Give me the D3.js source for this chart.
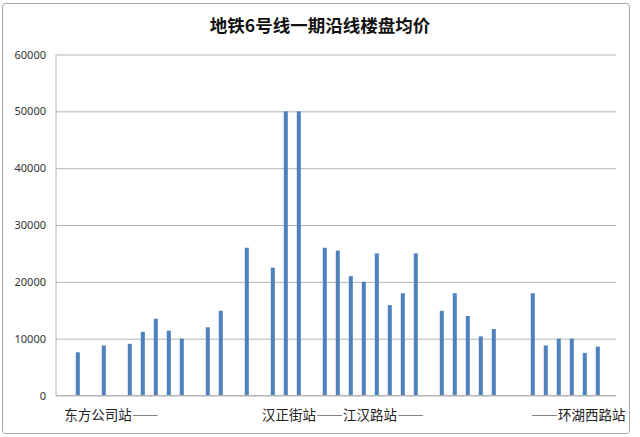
<!DOCTYPE html>
<html>
<head>
<meta charset="utf-8">
<script src="https://cdn.jsdelivr.net/npm/d3@7"></script>
<style>
  html, body { margin: 0; padding: 0; background: #fff; }
  svg { display: block; }
  .station { font-feature-settings: "fwid"; }
</style>
</head>
<body>
<div id="chart"></div>
<script>
// Chart data: one slot per building along the line, null = no bar in that slot
var slots = d3.range(1, 42).map(String);
var prices = [7600, null, 8800, null, 9100, 11200, 13500, 11400, 10000, null,
              12000, 14900, null, 26000, null, 22500, 50000, 50000, null, 26000,
              25500, 21000, 20000, 25000, 15900, 18000, 25000, null, 14900, 18000,
              14000, 10400, 11700, null, null, 18000, 8800, 10000, 10000, 7500,
              8600];
var yTicks = [0, 10000, 20000, 30000, 40000, 50000, 60000];
var stationLabels = ["东方公司站——", "汉正街站——江汉路站——", "——环湖西路站"];
var stationSlots = [2.6, 20.4, 38.5];
var title = "地铁6号线一期沿线楼盘均价";

var WIDTH = 640, HEIGHT = 437;
var LEFT = 56, RIGHT = 616, TOP = 54.5, BOTTOM = 395.5;
var BAR_COLOR = "#4f81bd";
var GRID_COLOR = "#b4b4b4";

var svg = d3.select("#chart")
            .append("svg")
              .attr("width", WIDTH)
              .attr("height", HEIGHT);

// outer frame
svg.append("rect")
   .attr("x", 2.5).attr("y", 3.5)
   .attr("width", 627).attr("height", 430)
   .attr("rx", 3)
   .attr("fill", "#fff")
   .attr("stroke", "#a6a6a6");

svg.append("text")
   .attr("x", WIDTH / 2)
   .attr("y", 32)
   .attr("text-anchor", "middle")
   .attr("font-family", "'Noto Sans CJK SC', sans-serif")
   .attr("font-weight", "bold")
   .attr("font-size", 17.5)
   .attr("fill", "#111")
   .text(title);

// scales
var xscale = d3.scaleBand()
               .domain(slots)
               .range([LEFT, RIGHT])
               .paddingInner(0.69)
               .paddingOuter(1.384)
               .align(0.55);

var yscale = d3.scaleLinear()
               .domain([0, 60000])
               .range([BOTTOM, TOP]);

// gridlines + y labels
var y_axis = d3.axisLeft(yscale)
               .tickValues(yTicks)
               .tickSize(-(RIGHT - LEFT))
               .tickPadding(10)
               .tickFormat(d3.format("d"));

var yAxisG = svg.append("g")
                .attr("transform", "translate(" + LEFT + ",0)")
                .call(y_axis);

yAxisG.select(".domain").remove();
yAxisG.selectAll(".tick line")
      .attr("stroke", GRID_COLOR);
yAxisG.selectAll(".tick text")
      .attr("font-family", "'Noto Sans', sans-serif")
      .attr("font-size", 11)
      .attr("fill", "#333");

// vertical axis line
svg.append("line")
   .attr("x1", LEFT).attr("x2", LEFT)
   .attr("y1", TOP).attr("y2", BOTTOM)
   .attr("stroke", GRID_COLOR);

// bars
var barData = slots.map(function (s, i) { return [s, prices[i]]; })
                   .filter(function (d) { return d[1] !== null; });

svg.selectAll("rect.bar")
   .data(barData)
   .enter()
   .append("rect")
     .attr("class", "bar")
     .attr("x", function (d) { return xscale(d[0]); })
     .attr("y", function (d) { return yscale(d[1]); })
     .attr("width", xscale.bandwidth())
     .attr("height", function (d) { return yscale(0) - yscale(d[1]); })
     .attr("fill", BAR_COLOR);

// baseline drawn over bar bottoms
svg.append("line")
   .attr("x1", LEFT).attr("x2", RIGHT)
   .attr("y1", BOTTOM).attr("y2", BOTTOM)
   .attr("stroke", GRID_COLOR);

// station labels under the axis
var firstCenter = xscale(slots[0]) + xscale.bandwidth() / 2;

svg.selectAll("text.station")
   .data(stationLabels)
   .enter()
   .append("text")
     .attr("class", "station")
     .attr("x", function (d, i) { return firstCenter + stationSlots[i] * xscale.step(); })
     .attr("y", 420)
     .attr("text-anchor", "middle")
     .attr("font-family", "'Noto Sans CJK SC', sans-serif")
     .attr("font-size", 13.5)
     .attr("fill", "#222")
     .text(function (d) { return d; });
</script>
</body>
</html>
